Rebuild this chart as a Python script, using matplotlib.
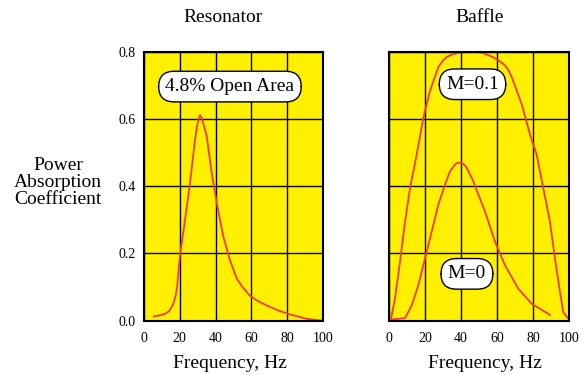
import matplotlib
matplotlib.use('Agg')
import matplotlib.pyplot as plt

plt.rcParams['font.family'] = ['Liberation Serif', 'DejaVu Serif']

# Resonator, 4.8% open area
res_freq = [5.6, 9, 11.7, 14, 16, 17.5, 18.5, 20, 22.9, 25.7, 28.5, 30, 31.3, 32.5, 34, 35, 37.8, 41, 44.3,
            48, 51.8, 55, 59, 63, 68.5, 75, 81.6, 90.9, 99]
res_abs = [0.012, 0.016, 0.02, 0.028, 0.045, 0.07, 0.1, 0.19, 0.30, 0.41, 0.54, 0.59, 0.612, 0.6, 0.57, 0.55,
           0.44, 0.34, 0.25, 0.18, 0.125, 0.1, 0.075, 0.06, 0.045, 0.03, 0.018, 0.005, 0.0]

# Baffle, M=0
m0_freq = [1.5, 8.9, 12.6, 16.3, 20, 23.7, 27.4, 31.1, 33.9, 36.7, 38, 40.4, 42, 43.2, 46.8, 53.3, 58.9, 64.4,
           71.8, 79.3, 89.4]
m0_abs = [0.003, 0.007, 0.045, 0.105, 0.185, 0.265, 0.345, 0.405, 0.445, 0.465, 0.47, 0.47, 0.463, 0.455, 0.415,
          0.325, 0.235, 0.165, 0.095, 0.05, 0.017]

# Baffle, M=0.1
m1_freq = [1.1, 3.3, 6.1, 8.9, 11.7, 15.4, 19.1, 22.8, 27.4, 30, 32, 35, 38.5, 43, 47.8, 52, 57, 61, 64.4, 66.5,
           68.2, 73.7, 78.3, 82, 85.7, 89.4, 92.2, 95, 96.8, 99.4]
m1_abs = [0.005, 0.065, 0.175, 0.295, 0.395, 0.495, 0.605, 0.685, 0.755, 0.775, 0.785, 0.793, 0.797, 0.8, 0.8,
          0.797, 0.787, 0.775, 0.76, 0.745, 0.725, 0.645, 0.555, 0.495, 0.395, 0.295, 0.185, 0.085, 0.025, 0.007]

x_ticks = [0, 20, 40, 60, 80, 100]
y_ticks = [0.0, 0.2, 0.4, 0.6, 0.8]

yellow = '#fff000'
red = '#f03c3c'
box = dict(boxstyle='round,pad=0.35,rounding_size=0.8', fc='white', ec='black', lw=1)

fig = plt.figure(figsize=(5.87, 3.75), dpi=100)
ax1 = fig.add_axes([0.2453, 0.1453, 0.305, 0.716])
ax2 = fig.add_axes([0.6627, 0.1453, 0.3066, 0.716])

for ax in (ax1, ax2):
    ax.set_facecolor(yellow)
    ax.set_xlim(0, 100)
    ax.set_ylim(0, 0.8)
    ax.set_xticks(x_ticks)
    ax.set_yticks(y_ticks)
    ax.grid(True, color='black', lw=1)
    ax.set_axisbelow(True)
    ax.tick_params(length=0, labelsize=10, pad=8)
    for s in ax.spines.values():
        s.set_linewidth(1.5)

ax1.set_yticklabels(['%.1f' % v for v in y_ticks])
ax1.tick_params(axis='y', pad=6)
ax2.set_yticklabels([])

ax1.plot(res_freq, res_abs, color=red, lw=1.3)
ax2.plot(m0_freq, m0_abs, color=red, lw=1.3)
ax2.plot(m1_freq, m1_abs, color=red, lw=1.3)

ax1.text(48, 0.697, '4.8% Open Area', fontsize=14, ha='center', va='center', bbox=box)
ax2.text(46.4, 0.704, 'M=0.1', fontsize=14, ha='center', va='center', bbox=box)
ax2.text(43.3, 0.139, 'M=0', fontsize=14, ha='center', va='center', bbox=box)

fig.text(223 / 587, 1 - 17 / 375, 'Resonator', fontsize=14, ha='center', va='center')
fig.text(479.5 / 587, 1 - 17 / 375, 'Baffle', fontsize=14, ha='center', va='center')
fig.text(230 / 587, 1 - 363 / 375, 'Frequency, Hz', fontsize=14, ha='center', va='center')
fig.text(484.5 / 587, 1 - 363 / 375, 'Frequency, Hz', fontsize=14, ha='center', va='center')
fig.text(58 / 587, 1 - 182 / 375, 'Power\nAbsorption\nCoefficient', fontsize=14,
         ha='center', va='center', linespacing=1.0)

fig.savefig('out.png', dpi=100)
